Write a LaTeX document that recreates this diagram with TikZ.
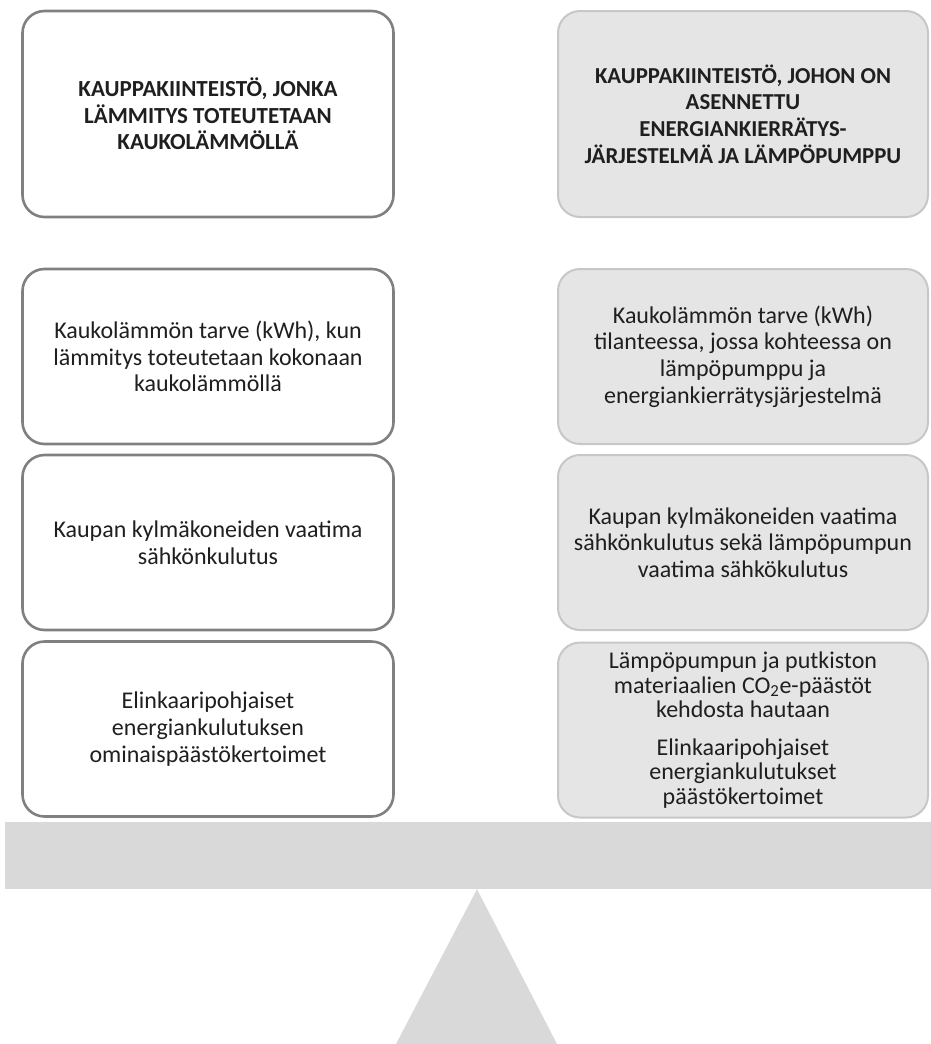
\documentclass[tikz,border=0pt]{standalone}
\usepackage{fontspec}
\setmainfont{Carlito}
\usetikzlibrary{positioning}

\begin{document}
\begin{tikzpicture}[
    x=1pt, y=-1pt,
    box/.style={rectangle, rounded corners=22pt, align=center, inner sep=0pt,
        minimum height=175pt, text=black!88},
    lbox/.style={box, draw=black!50, line width=2.6pt, fill=white, minimum width=371pt},
    rbox/.style={box, draw=black!22, line width=2pt, fill=black!10, minimum width=370pt},
    head/.style={minimum height=206pt, font=\fontsize{23}{26.7}\selectfont\bfseries},
    body/.style={font=\fontsize{24}{26.7}\selectfont}
]
    \useasboundingbox (0,0) rectangle (931,1044);
    \node[lbox, head] (lhead) at (208,114) {KAUPPAKIINTEISTÖ, JONKA\\LÄMMITYS TOTEUTETAAN\\KAUKOLÄMMÖLLÄ};
    \node[rbox, head, font=\fontsize{22.8}{26.7}\selectfont\bfseries] (rhead) at (743,114) {KAUPPAKIINTEISTÖ, JOHON ON\\ASENNETTU\\ENERGIANKIERRÄTYS-\\JÄRJESTELMÄ JA LÄMPÖPUMPPU};
    \node[lbox, body] (lheat) at (208,356.5) {Kaukolämmön tarve (kWh), kun\\lämmitys toteutetaan kokonaan\\kaukolämmöllä};
    \node[rbox, body] (rheat) at (743,356.5) {Kaukolämmön tarve (kWh)\\tilanteessa, jossa kohteessa on\\lämpöpumppu ja\\energiankierrätysjärjestelmä};
    \node[lbox, body] (lelec) at (208,542.5) {Kaupan kylmäkoneiden vaatima\\sähkönkulutus};
    \node[rbox, body] (relec) at (743,542.5) {Kaupan kylmäkoneiden vaatima\\sähkönkulutus sekä lämpöpumpun\\vaatima sähkökulutus};
    \node[lbox, body] (lcoef) at (208,729) {Elinkaaripohjaiset\\energiankulutuksen\\ominaispäästökertoimet};
    \node[rbox, font=\fontsize{24}{24.5}\selectfont] (rcoef) at (743,730) {Lämpöpumpun ja putkiston\\materiaalien CO\textsubscript{2}e-päästöt\\kehdosta hautaan\\[13pt]Elinkaaripohjaiset\\energiankulutukset\\päästökertoimet};
    \node[rectangle, fill=black!15, minimum width=926pt, minimum height=67pt, inner sep=0pt] (beam) at (468,855.5) {};
    \fill[black!15] (beam.south -| 477,0) -- (396,1044) -- (557,1044) -- cycle;
\end{tikzpicture}
\end{document}
